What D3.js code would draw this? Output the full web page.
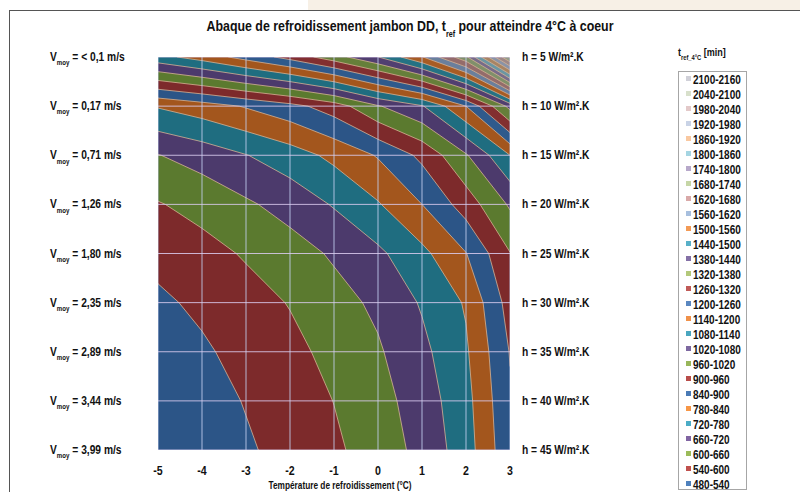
<!DOCTYPE html>
<html>
<head>
<meta charset="utf-8">
<title>Abaque de refroidissement</title>
<script src="https://d3js.org/d3.v7.min.js"></script>
<style>
  body { margin: 0; background: #fff; }
  text {
    font-family: "Liberation Sans", Arial, sans-serif;
    font-weight: bold;
    fill: #111;
  }
</style>
</head>
<body>
<script>
// grid of the abacus: columns = air temperature, rows = h (top to bottom)
const temps = [-5, -4, -3, -2, -1, 0, 1, 2, 3];
const hValues = [5, 10, 15, 20, 25, 30, 35, 40, 45];
const speedLabels = ["< 0,1", "0,17", "0,71", "1,26", "1,80", "2,35", "2,89", "3,44", "3,99"];

// t_ref (min), one row per h value
const tRef = [
  [1120, 1166, 1223, 1281, 1354, 1439, 1556, 1726, 2110],
  [785, 812, 845, 880, 929, 1015, 1075, 1200, 1400],
  [658, 685, 718, 752, 795, 845, 914, 1014, 1140],
  [596, 620, 651, 683, 725, 775, 840, 928, 1028],
  [556, 579, 606, 634, 668, 708, 765, 838, 958],
  [530, 551, 577, 603, 638, 672, 726, 786, 925],
  [512, 532, 558, 584, 617, 653, 705, 772, 903],
  [498, 518, 543, 569, 601, 638, 689, 760, 893],
  [488, 508, 533, 558, 590, 627, 678, 752, 885]
];

// contour levels (legend classes)
const levelBreaks = [480, 540, 600, 660, 720, 780, 840, 900, 960, 1020, 1080, 1140, 1200, 1260,
  1320, 1380, 1440, 1500, 1560, 1620, 1680, 1740, 1800, 1860, 1920, 1980, 2040, 2100, 2160];

// legend swatch colours, one per class (low -> high)
const legendColors = [
  "#4f81bd", "#c0504d", "#9bbb59", "#8064a2", "#4bacc6", "#f79646",
  "#4a7ab5", "#b84c49", "#98b65a", "#7d68a0", "#4aa6bf", "#f0914a",
  "#5a87c0", "#c05a57", "#b3c87a", "#8470a6", "#58b0c8", "#f39a55",
  "#a7bfde", "#d9a9a8", "#c6d6a6", "#b7a8ca", "#a5d5e2", "#f9c8a0",
  "#c9d3e6", "#e3c9c9", "#d8e0cb", "#d0d0d8"
];
// the surface itself is drawn shaded
const surfaceColors = [
  "#2c5587", "#7d2a2b", "#5b7a2f", "#4c3a6c", "#1f6d80", "#a3561d",
  "#2c5587", "#7d2a2b", "#5b7a2f", "#4c3a6c", "#1f6d80", "#a3561d",
  "#2f5a8c", "#822f30", "#667f3a", "#513f70", "#257284", "#a75c24",
  "#6a7f9c", "#946c6b", "#80906a", "#776c8a", "#6a96a3", "#a88463",
  "#8a93a6", "#9e8888", "#959d88", "#8d8d96"
];

const W = 800, H = 492;
const svg = d3.select("body").append("svg").attr("width", W).attr("height", H);

// narrow bold text (the original uses a condensed face)
function label(parent, px, py, size, anchor, sx) {
  return parent.append("g").attr("transform", `translate(${px},${py}) scale(${sx},1)`)
    .append("text").attr("text-anchor", anchor).style("font-size", size + "px");
}

// page frame from the original document
svg.append("rect").attr("x", 308).attr("y", 0).attr("width", 492).attr("height", 10).attr("fill", "#f7f0e6");
svg.append("line").attr("x1", 9).attr("x2", 800).attr("y1", 10.5).attr("y2", 10.5).attr("stroke", "#555");
svg.append("line").attr("x1", 9.5).attr("x2", 9.5).attr("y1", 10).attr("y2", 492).attr("stroke", "#555");

const x = d3.scaleLinear().domain([-5, 3]).range([158, 510]);
const y = d3.scaleLinear().domain([5, 45]).range([57, 450]);

// title
const title = label(svg, 410, 31, 15.5, "middle", 0.8);
title.append("tspan").text("Abaque de refroidissement jambon DD, t");
title.append("tspan").attr("baseline-shift", "sub").style("font-size", "9px").text("ref");
title.append("tspan").text(" pour atteindre 4°C à coeur");

// contours
const nx = temps.length, ny = hValues.length;
const contours = d3.contours().size([nx, ny]).thresholds(levelBreaks.slice(0, -1))(tRef.flat());
const dx = temps[1] - temps[0], dh = hValues[1] - hValues[0];
const proj = d3.geoTransform({
  point: function (px, py) {
    this.stream.point(x(temps[0] + (px - 0.5) * dx), y(hValues[0] + (py - 0.5) * dh));
  }
});
const path = d3.geoPath(proj);

svg.append("clipPath").attr("id", "plotClip")
  .append("rect").attr("x", x(-5)).attr("y", y(5)).attr("width", x(3) - x(-5)).attr("height", y(45) - y(5));

const plot = svg.append("g").attr("clip-path", "url(#plotClip)");
plot.selectAll("path.band")
  .data(contours)
  .join("path")
  .attr("class", "band")
  .attr("d", path)
  .attr("fill", (d, i) => surfaceColors[i])
  .attr("stroke", "#d6b294")
  .attr("stroke-width", 0.8);

// gridlines drawn over the surface
plot.selectAll("line.vgrid").data(temps).join("line").attr("class", "vgrid")
  .attr("x1", d => x(d)).attr("x2", d => x(d)).attr("y1", y(5)).attr("y2", y(45))
  .attr("stroke", "#c3cff0").attr("stroke-opacity", 0.85).attr("stroke-width", 1);
plot.selectAll("line.hgrid").data(hValues).join("line").attr("class", "hgrid")
  .attr("x1", x(-5)).attr("x2", x(3)).attr("y1", d => y(d)).attr("y2", d => y(d))
  .attr("stroke", "#dccdf0").attr("stroke-opacity", 0.85).attr("stroke-width", 1);

// left labels: air speed
hValues.forEach((h, i) => {
  const t = label(svg, 50, y(h) + 4, 12.5, "start", 0.82);
  t.append("tspan").text("V");
  t.append("tspan").attr("baseline-shift", "sub").style("font-size", "7.5px").text("moy");
  t.append("tspan").text(" = " + speedLabels[i] + " m/s");
});

// right labels: h
hValues.forEach(h => {
  label(svg, 522, y(h) + 4, 12.5, "start", 0.82).text("h = " + h + " W/m².K");
});

// x tick labels
temps.forEach(v => {
  label(svg, x(v), 475, 12.5, "middle", 0.85).text(v);
});
label(svg, 340, 489, 11.5, "middle", 0.72).text("Température de refroidissement (°C)");

// legend
const lt = label(svg, 678, 56, 11, "start", 0.82);
lt.append("tspan").text("t");
lt.append("tspan").attr("baseline-shift", "sub").style("font-size", "7px").text("ref_4°C");
lt.append("tspan").text(" [min]");

svg.append("rect").attr("x", 678.5).attr("y", 71.5).attr("width", 68).attr("height", 418)
  .attr("fill", "#fff").attr("stroke", "#a6a6a6");

const classes = levelBreaks.slice(0, -1).map((b, i) => ({ label: b + "-" + levelBreaks[i + 1], color: legendColors[i] }));
const ly = d3.scalePoint().domain(classes.map(d => d.label).reverse()).range([79, 484]);
classes.forEach(c => {
  svg.append("rect").attr("x", 686).attr("y", ly(c.label) - 3).attr("width", 5).attr("height", 5).attr("fill", c.color);
  label(svg, 693, ly(c.label) + 4.5, 12.5, "start", 0.8).text(c.label);
});
</script>
</body>
</html>
